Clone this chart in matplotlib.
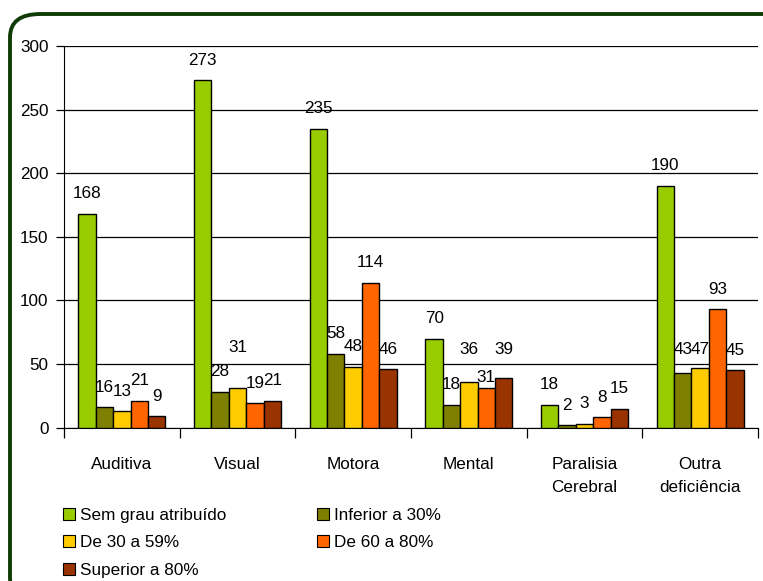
import matplotlib
matplotlib.use("Agg")
import matplotlib.pyplot as plt
from matplotlib.patches import FancyBboxPatch, Patch
import numpy as np

categories = ["Auditiva", "Visual", "Motora", "Mental", "Paralisia\nCerebral", "Outra\ndeficiência"]
series_names = ["Sem grau atribuído", "Inferior a 30%", "De 30 a 59%", "De 60 a 80%", "Superior a 80%"]
sem_grau = [168, 273, 235, 70, 18, 190]
inferior_30 = [16, 28, 58, 18, 2, 43]
de_30_59 = [13, 31, 48, 36, 3, 47]
de_60_80 = [21, 19, 114, 31, 8, 93]
superior_80 = [9, 21, 46, 39, 15, 45]
yticks = [0, 50, 100, 150, 200, 250, 300]

series = [sem_grau, inferior_30, de_30_59, de_60_80, superior_80]
colors = ["#99CC00", "#808000", "#FFCC00", "#FF6600", "#993300"]
# extra label lift (pixels) to mimic label placement of the original
extra = {(1, 2): 21, (3, 2): 12, (3, 4): 8, (3, 3): -9, (5, 1): 3, (5, 2): -2}

plt.rcParams['font.family'] = ['Liberation Sans', 'DejaVu Sans']
FS = 12.3

fig = plt.figure(figsize=(7.63, 5.81), dpi=100)
ax = fig.add_axes([64/763, 153.4/581, 694/763, 381.6/581])

x = np.arange(len(categories))
w = 0.15
for i, (vals, c) in enumerate(zip(series, colors)):
    pos = x + (i - 2) * w
    ax.bar(pos, vals, width=w, color=c, edgecolor="black", linewidth=1.0, zorder=3)
    for j, (p, v) in enumerate(zip(pos, vals)):
        lift = 20 + extra.get((j, i), 0)
        ax.annotate(str(v), (p, v), xytext=(0, lift), textcoords="offset pixels",
                    ha="center", va="center", fontsize=FS, zorder=4)

ax.set_xlim(-0.5, 5.5)
ax.set_ylim(0, 300)
ax.set_yticks(yticks)
ax.set_yticklabels([str(t) for t in yticks], fontsize=FS)
ax.yaxis.grid(True, color="black", linewidth=0.9, zorder=0)
ax.set_axisbelow(True)
for s in ["top", "right"]:
    ax.spines[s].set_visible(False)
ax.spines["left"].set_color("black")
ax.spines["bottom"].set_color("black")
ax.tick_params(axis="y", length=6, width=0.9, pad=5)

ax.set_xticks(np.arange(-0.5, 6.0, 1.0))
ax.set_xticklabels([])
ax.tick_params(axis="x", which="major", length=7, width=0.9)
ax.set_xticks(x, minor=True)
ax.set_xticklabels(categories, minor=True, fontsize=FS, linespacing=1.65)
ax.tick_params(axis="x", which="minor", length=0, pad=21)

handles = [Patch(facecolor=c, edgecolor="black", linewidth=0.8) for c in colors]
order = [0, 2, 4, 1, 3]
leg = fig.legend([handles[k] for k in order], [series_names[k] for k in order],
                 ncol=2, loc="upper left", bbox_to_anchor=(63/763, 1 - 508/581),
                 frameon=False, fontsize=FS, handlelength=0.7, handleheight=0.7,
                 handletextpad=0.3, labelspacing=0.72, columnspacing=5.3,
                 borderaxespad=0, borderpad=0)

frame = FancyBboxPatch((10/763, -20/581), 800/763, (581 - 14 + 20)/581,
                       boxstyle="round,pad=0,rounding_size=0.04",
                       transform=fig.transFigure, fill=False,
                       edgecolor="#0E3B06", linewidth=2.8, zorder=10)
fig.patches.append(frame)

fig.savefig("out.png", dpi=100)
